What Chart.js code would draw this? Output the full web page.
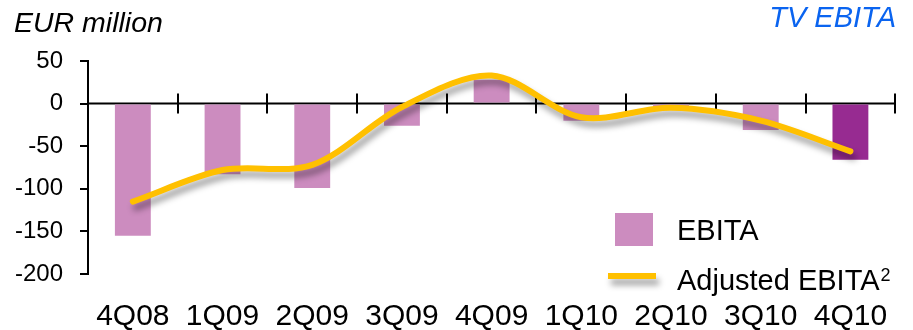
<!DOCTYPE html>
<html>
<head>
<meta charset="utf-8">
<script src="https://cdn.jsdelivr.net/npm/chart.js@4/dist/chart.umd.min.js"></script>
<style>
  html, body { margin: 0; padding: 0; background: #ffffff; }
  #wrap { width: 913px; height: 330px; position: relative; }
</style>
</head>
<body>
<div id="wrap"><canvas id="chart" width="913" height="330"></canvas></div>
<script>
// Quarterly TV EBITA, EUR million
const categories = ['4Q08', '1Q09', '2Q09', '3Q09', '4Q09', '1Q10', '2Q10', '3Q10', '4Q10'];
const ebita = [-155, -83, -99, -26, 28, -20, -4, -31, -66];
const adjustedEbita = [-115, -78, -72, -4, 33, -16, -5, -20, -56];
const yTicks = [50, 0, -50, -100, -150, -200];

const FONT = '"Liberation Sans", Arial, Helvetica, sans-serif';
const PINK = '#cc8cbf';
const PURPLE = '#972b91';
const GOLD = '#ffc000';
const barColors = categories.map((c, i) => i === categories.length - 1 ? PURPLE : PINK);

// Zero line with category separators crossing it
const zeroAxis = {
  id: 'zeroAxis',
  beforeDatasetsDraw(chart) {
    const { ctx, chartArea, scales } = chart;
    const y0 = scales.y.getPixelForValue(0);
    const x = scales.x;
    ctx.save();
    ctx.strokeStyle = '#000';
    ctx.lineWidth = 2;
    ctx.beginPath();
    ctx.moveTo(chartArea.left, y0);
    ctx.lineTo(chartArea.right, y0);
    const half = (x.getPixelForValue(1) - x.getPixelForValue(0)) / 2;
    for (let i = 0; i < categories.length; i++) {
      const px = Math.round(x.getPixelForValue(i) + half);
      ctx.moveTo(px, y0 - 10);
      ctx.lineTo(px, y0 + 10);
    }
    ctx.stroke();
    ctx.restore();
  }
};

// Soft drop shadow under the adjusted line
const lineShadow = {
  id: 'lineShadow',
  beforeDatasetDraw(chart, args) {
    if (chart.data.datasets[args.index].type !== 'line') return;
    const ctx = chart.ctx;
    ctx.save();
    ctx.shadowColor = 'rgba(0,0,0,0.38)';
    ctx.shadowBlur = 6;
    ctx.shadowOffsetX = 3;
    ctx.shadowOffsetY = 6;
  },
  afterDatasetDraw(chart, args) {
    if (chart.data.datasets[args.index].type !== 'line') return;
    chart.ctx.restore();
  }
};

// Unit label, section title and legend
const annotations = {
  id: 'annotations',
  afterDraw(chart) {
    const ctx = chart.ctx;
    const ds = chart.data.datasets;
    ctx.save();
    ctx.textBaseline = 'alphabetic';

    ctx.fillStyle = '#000';
    ctx.font = 'italic 28.5px ' + FONT;
    ctx.textAlign = 'left';
    ctx.fillText('EUR million', 14, 32);

    ctx.fillStyle = '#0a64f0';
    ctx.font = 'italic 29px ' + FONT;
    ctx.textAlign = 'right';
    ctx.fillText('TV EBITA', 896, 27);

    // bar entry
    ctx.fillStyle = PINK;
    ctx.fillRect(615, 213, 38, 33);
    ctx.fillStyle = '#000';
    ctx.font = '29px ' + FONT;
    ctx.textAlign = 'left';
    ctx.fillText(ds[1].label, 677, 240);

    // line entry
    ctx.save();
    ctx.shadowColor = 'rgba(0,0,0,0.38)';
    ctx.shadowBlur = 6;
    ctx.shadowOffsetX = 3;
    ctx.shadowOffsetY = 6;
    ctx.strokeStyle = GOLD;
    ctx.lineWidth = 6;
    ctx.beginPath();
    ctx.moveTo(608, 276);
    ctx.lineTo(656, 276);
    ctx.stroke();
    ctx.restore();

    ctx.fillStyle = '#000';
    ctx.font = '29px ' + FONT;
    ctx.fillText(ds[0].label, 677, 290);
    const w = ctx.measureText(ds[0].label).width;
    ctx.font = '18px ' + FONT;
    ctx.fillText('2', 677 + w + 1, 281);
    ctx.restore();
  }
};

new Chart(document.getElementById('chart'), {
  data: {
    labels: categories,
    datasets: [
      {
        type: 'line',
        label: 'Adjusted EBITA',
        data: adjustedEbita,
        borderColor: GOLD,
        borderWidth: 6,
        borderCapStyle: 'round',
        borderJoinStyle: 'round',
        tension: 0.32,
        pointRadius: 0,
        fill: false,
        order: 1
      },
      {
        type: 'bar',
        label: 'EBITA',
        data: ebita,
        backgroundColor: barColors,
        borderWidth: 0,
        barPercentage: 0.4,
        categoryPercentage: 1.0,
        order: 2
      }
    ]
  },
  options: {
    responsive: false,
    animation: false,
    devicePixelRatio: 1,
    layout: { padding: { top: 61, right: 16, bottom: 0, left: 0 } },
    plugins: {
      legend: { display: false },
      tooltip: { enabled: false },
      title: { display: false }
    },
    scales: {
      x: {
        position: 'bottom',
        grid: { display: false, drawTicks: false },
        border: { display: false },
        ticks: {
          color: '#000',
          font: { family: FONT, size: 30 },
          padding: 25,
          maxRotation: 0,
          autoSkip: false
        },
        afterFit(scale) { scale.height = 56; }
      },
      y: {
        min: -200,
        max: 50,
        afterBuildTicks(scale) { scale.ticks = yTicks.map(v => ({ value: v })); },
        grid: {
          drawOnChartArea: false,
          drawTicks: true,
          tickLength: 8,
          color: '#000',
          lineWidth: 2
        },
        border: { display: true, color: '#000', width: 2 },
        ticks: {
          color: '#000',
          font: { family: FONT, size: 24 },
          padding: 17
        },
        afterFit(scale) { scale.width = 88; }
      }
    }
  },
  plugins: [zeroAxis, lineShadow, annotations]
});
</script>
</body>
</html>
